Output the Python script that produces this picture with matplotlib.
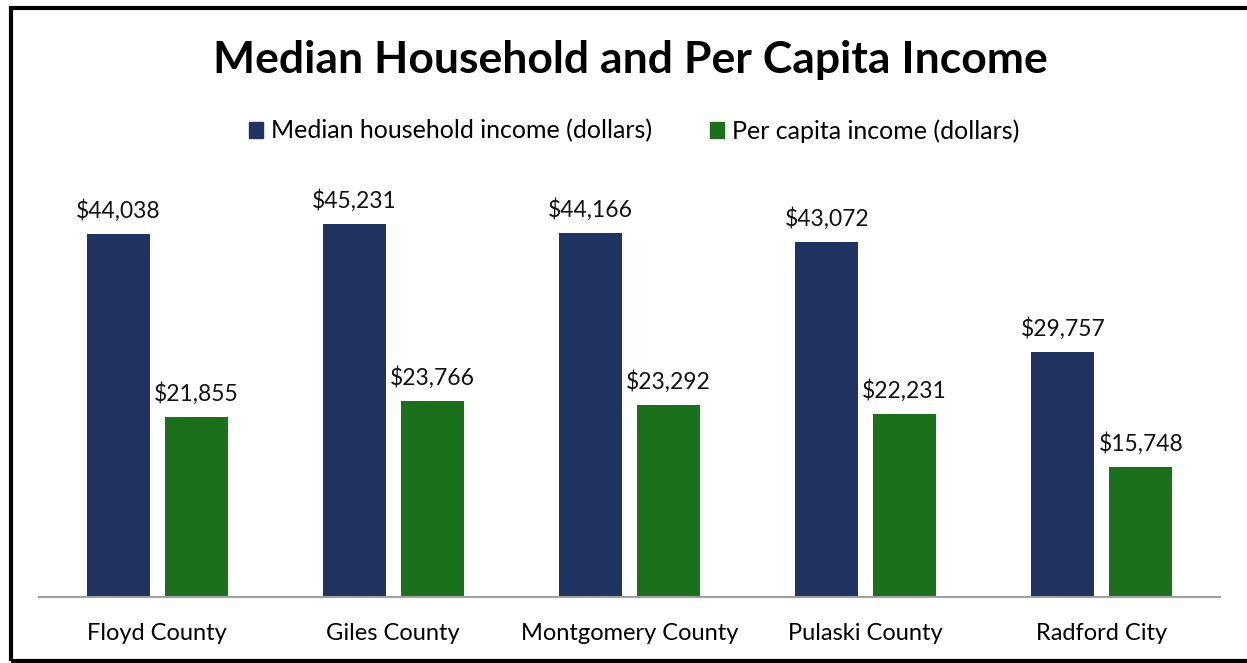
import matplotlib
matplotlib.use("Agg")
import matplotlib.pyplot as plt
from matplotlib.patches import Patch, Rectangle
import numpy as np

categories = ["Floyd County", "Giles County", "Montgomery County", "Pulaski County", "Radford City"]
median_household = [44038, 45231, 44166, 43072, 29757]
per_capita = [21855, 23766, 23292, 22231, 15748]
series_names = ["Median household income (dollars)", "Per capita income (dollars)"]

plt.rcParams['font.family'] = ['Lato', 'DejaVu Sans']

W, H = 1247, 663
fig = plt.figure(figsize=(W/100, H/100), dpi=100)
ax = fig.add_axes([39/W, (H-597)/H, (1220-39)/W, (597-185)/H])

blue = "#1f3461"
green = "#1b711b"
x = np.arange(len(categories))
bw = 0.267
off = 0.165
b1 = ax.bar(x - off, median_household, bw, color=blue)
b2 = ax.bar(x + off, per_capita, bw, color=green)
for bars, vals in ((b1, median_household), (b2, per_capita)):
    for r, v in zip(bars, vals):
        ax.annotate(f"${v:,}", (r.get_x() + r.get_width()/2, v), xytext=(0, 12),
                    textcoords="offset pixels", ha="center", va="bottom", fontsize=16.5, color="#111")

ax.set_xlim(-0.5, len(categories) - 0.5)
ax.set_ylim(0, 50000)
ax.set_yticks([])
ax.set_xticks(x)
ax.set_xticklabels(categories, fontsize=17)
ax.tick_params(axis='x', length=0, pad=19)
for s in ("top", "right", "left"):
    ax.spines[s].set_visible(False)
ax.spines["bottom"].set_color("#a0a0a0")
ax.spines["bottom"].set_linewidth(1.5)

fig.text(630/W, 1 - 60/H, "Median Household and Per Capita Income", ha="center", va="center",
         fontsize=32, fontweight="bold")

handles = [Patch(color=blue), Patch(color=green)]
fig.legend(handles, series_names, loc="center", bbox_to_anchor=(634/W, 1 - 131/H), ncol=2,
           frameon=False, fontsize=18, handlelength=0.56, handleheight=0.56, handletextpad=0.32,
           columnspacing=2.3)

fig.add_artist(Rectangle((10.5/W, 2/H), 1.2, (H - 8 - 2)/H, transform=fig.transFigure,
                         fill=False, edgecolor="black", linewidth=3, clip_on=False))

fig.savefig("out.png", dpi=100, facecolor="white")
